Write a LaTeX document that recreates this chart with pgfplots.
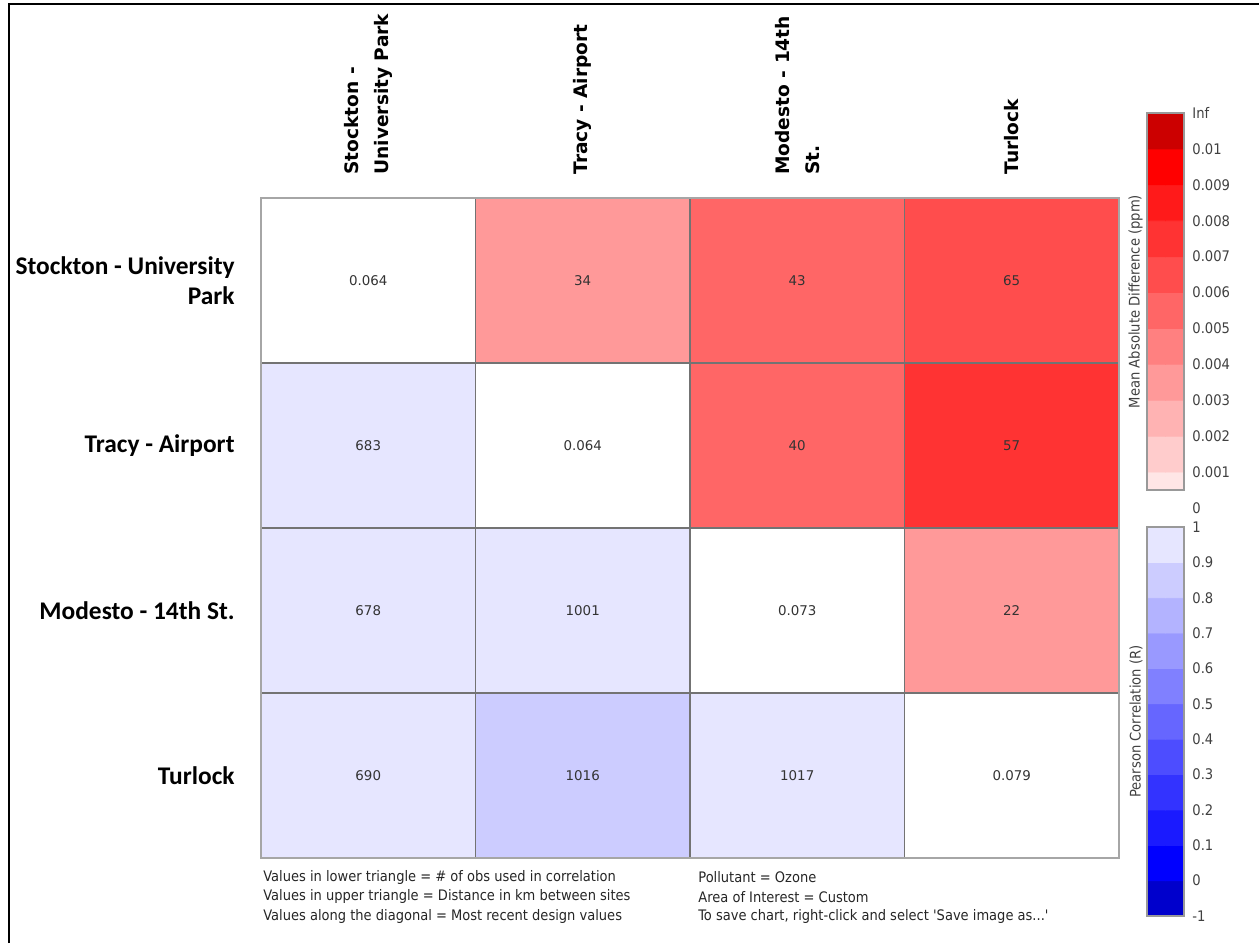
\documentclass[border=0pt]{standalone}
\usepackage{fontspec}
\setmainfont{DejaVu Sans}
\newfontfamily\colfont{DejaVu Sans}
\newfontfamily\rowfont{Carlito}
\newfontfamily\condfont{DejaVu Sans Condensed}
\usepackage{pgfplots}
\usepackage{pgfplotstable}
\pgfplotsset{compat=1.18}

\pgfplotsset{
  colormap={cellmap}{rgb255=(255,255,255) rgb255=(255,153,153) rgb255=(255,102,102) rgb255=(255,77,77) rgb255=(255,51,51) rgb255=(230,230,255) rgb255=(204,204,255)},
  colormap={redbar}{rgb255=(255,230,230) rgb255=(255,204,204) rgb255=(255,179,179) rgb255=(255,153,153) rgb255=(255,128,128) rgb255=(255,102,102) rgb255=(255,77,77) rgb255=(255,51,51) rgb255=(255,26,26) rgb255=(255,0,0) rgb255=(204,0,0)},
  colormap={bluebar}{rgb255=(0,0,204) rgb255=(0,0,255) rgb255=(26,26,255) rgb255=(51,51,255) rgb255=(77,77,255) rgb255=(102,102,255) rgb255=(128,128,255) rgb255=(153,153,255) rgb255=(179,179,255) rgb255=(204,204,255) rgb255=(230,230,255)},
}

% x = column, y = row, c = colour index, label = cell text
\pgfplotstableread{
x y c label
0 0 0 0.064
1 0 1 34
2 0 2 43
3 0 3 65
0 1 5 683
1 1 0 0.064
2 1 2 40
3 1 4 57
0 2 5 678
1 2 5 1001
2 2 0 0.073
3 2 1 22
0 3 5 690
1 3 6 1016
2 3 5 1017
3 3 0 0.079
}\cells

\pgfplotstableread{
x y c
0.25 0.5 0
0.75 0.5 0
0.25 1.5 1
0.75 1.5 1
0.25 2.5 2
0.75 2.5 2
0.25 3.5 3
0.75 3.5 3
0.25 4.5 4
0.75 4.5 4
0.25 5.5 5
0.75 5.5 5
0.25 6.5 6
0.75 6.5 6
0.25 7.5 7
0.75 7.5 7
0.25 8.5 8
0.75 8.5 8
0.25 9.5 9
0.75 9.5 9
0.25 10.5 10
0.75 10.5 10
}\barsteps

\begin{document}
\begin{tikzpicture}
\useasboundingbox (0,0) rectangle (629.5pt,471.5pt);
\draw[line width=1pt] (4.25pt,0) -- (4.25pt,469.5pt) -- (629.5pt,469.5pt);

% ---------- heat map ----------
\begin{axis}[
  at={(130.5pt,42.5pt)}, anchor=south west,
  scale only axis, width=429pt, height=330pt,
  xmin=-0.5, xmax=3.5, ymin=-0.5, ymax=3.5, y dir=reverse,
  xtick={0,1,2,3}, ytick={0,1,2,3},
  xticklabels={{Stockton -\\University Park},{Tracy - Airport},{Modesto - 14th\\St.},{Turlock}},
  yticklabels={{Stockton - University\\Park},{Tracy - Airport},{Modesto - 14th St.},{Turlock}},
  xticklabel pos=upper,
  major tick length=0pt, minor tick length=0pt,
  xticklabel style={rotate=90, anchor=west, align=left, inner xsep=11.5pt, inner ysep=0pt,
     font=\colfont\bfseries\fontsize{9.3}{15}\selectfont},
  yticklabel style={align=right, inner sep=0pt, xshift=-13pt,
     font=\rowfont\bfseries\fontsize{12.7}{15}\selectfont},
  minor xtick={0.5,1.5,2.5}, minor ytick={0.5,1.5,2.5},
  xminorgrids, yminorgrids,
  minor grid style={black!55, line width=0.7pt},
  axis line style={black!35, line width=0.7pt},
  axis on top,
  colormap name=cellmap, colormap access=direct,
  clip=false,
]
\addplot[matrix plot*, mesh/cols=4, point meta=explicit] table[x=x, y=y, meta=c] {\cells};
\addplot[draw=none, mark=none, nodes near coords, point meta=explicit symbolic,
  nodes near coords style={anchor=center, text=black!80, font=\fontsize{6.7}{8}\selectfont}]
  table[x=x, y=y, meta=label] {\cells};
\end{axis}

% footnotes
\begin{scope}[every node/.style={anchor=west, inner sep=0pt, text=black!85, font=\condfont\fontsize{7.25}{8}\selectfont}]
\node at (131.5pt,33pt) {Values in lower triangle = \# of obs used in correlation};
\node at (131.5pt,23pt) {Values in upper triangle = Distance in km between sites};
\node at (131.5pt,13.5pt) {Values along the diagonal = Most recent design values};
\node at (349pt,33pt) {Pollutant = Ozone};
\node at (349pt,23pt) {Area of Interest = Custom};
\node at (349pt,13.5pt) {To save chart, right-click and select 'Save image as...'};
\end{scope}

% ---------- red colour bar ----------
\begin{axis}[
  at={(573.5pt,226.5pt)}, anchor=south west,
  scale only axis, width=18.5pt, height=188.5pt,
  xmin=0, xmax=1, ymin=0.5, ymax=11,
  xtick=\empty, ytick={1,2,3,4,5,6,7,8,9,10,11},
  yticklabels={0.001,0.002,0.003,0.004,0.005,0.006,0.007,0.008,0.009,0.01,Inf},
  yticklabel pos=right, major tick length=0pt,
  yticklabel style={anchor=west, inner sep=0pt, xshift=4pt, text=black!75,
     font=\condfont\fontsize{7.3}{8}\selectfont},
  ylabel={Mean Absolute Difference (ppm)},
  ylabel style={at={(axis description cs:0,0.5)}, anchor=south, inner sep=2pt,
     text=black!75, font=\condfont\fontsize{7.3}{8}\selectfont},
  axis line style={black!40, line width=0.6pt},
  axis on top, clip=true, clip mode=individual,
  colormap name=redbar, colormap access=direct,
]
\addplot[matrix plot*, mesh/cols=2, point meta=explicit] table[x=x, y=y, meta=c] {\barsteps};
\node[anchor=west, inner sep=0pt, xshift=4pt, text=black!75, font=\condfont\fontsize{7.3}{8}\selectfont] at (axis cs:1,0) {0};
\end{axis}

% ---------- blue colour bar ----------
\begin{axis}[
  at={(573.5pt,13.5pt)}, anchor=south west,
  scale only axis, width=18.5pt, height=194.5pt,
  xmin=0, xmax=1, ymin=0, ymax=11,
  xtick=\empty, ytick={0,1,2,3,4,5,6,7,8,9,10,11},
  yticklabels={-1,0,0.1,0.2,0.3,0.4,0.5,0.6,0.7,0.8,0.9,1},
  yticklabel pos=right, major tick length=0pt,
  yticklabel style={anchor=west, inner sep=0pt, xshift=4pt, text=black!75,
     font=\condfont\fontsize{7.3}{8}\selectfont},
  ylabel={Pearson Correlation (R)},
  ylabel style={at={(axis description cs:0,0.5)}, anchor=south, inner sep=2pt,
     text=black!75, font=\condfont\fontsize{7.3}{8}\selectfont},
  axis line style={black!40, line width=0.6pt},
  axis on top, clip=false,
  colormap name=bluebar, colormap access=direct,
]
\addplot[matrix plot*, mesh/cols=2, point meta=explicit] table[x=x, y=y, meta=c] {\barsteps};
\end{axis}
\end{tikzpicture}
\end{document}
